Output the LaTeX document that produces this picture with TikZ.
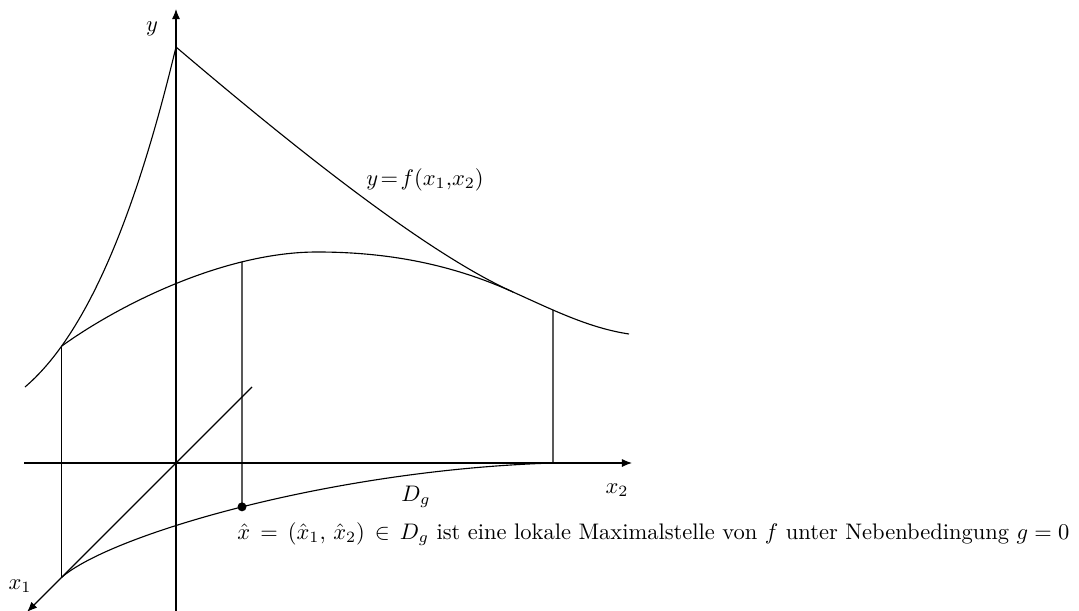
\documentclass[tikz,border=0pt]{standalone}
\usetikzlibrary{arrows.meta,intersections}
\begin{document}
\begin{tikzpicture}[x=0.4444pt,y=-0.4444pt,
  curve/.style={line width=0.5pt},
  axis/.style={line width=0.5pt,-{Latex[length=4.5pt,width=3.6pt]}},
  lbl/.style={inner sep=0pt},
  vline/.style={line width=0.5pt}]
\useasboundingbox (0,0) rectangle (1079,611);
% axes
\coordinate (O) at (176,463);
\coordinate (yb) at (176,611);
\coordinate (yt) at (176,9);
\draw[axis] (yb) -- (yt);
\coordinate (x2l) at (24,463);
\coordinate (x2r) at (632,463);
\draw[axis] (x2l) -- (x2r);
\coordinate (x1u) at (252,387);
\coordinate (x1d) at (27,612);
\draw[axis, name path=x1axis] (x1u) -- (x1d);
% graph of f
\coordinate (L) at (25,387);
\coordinate (P) at (176,47);
\coordinate (T) at (513,292);
\draw[curve] (L) .. controls (95,327.5) and (142.4,187) .. coordinate[pos=0.185] (A) (P);
\draw[curve] (P) .. controls (286,140.5) and (423,251.5) .. (T);
% image of the constraint curve on f
\draw[curve, name path=gcurve] (A) .. controls (123,302) and (227,252) .. (317,252)
   .. controls (390,252) and (453,265) .. (T)
   .. controls (553,310) and (589,328) .. (629,334);
% constraint curve D_g in the plane
\path[name path=vA] (A) -- ++(0,300);
\path[name intersections={of=vA and x1axis, by={B}}];
\coordinate (E) at (553,463);
\draw[curve, name path=dcurve] (B) .. controls (110,535) and (330,470) .. (E);
% vertical lines
\draw[vline] (A) -- (B);
\path[name path=v1] (242,0) -- (242,611);
\path[name intersections={of=v1 and gcurve, by={H1}}];
\path[name intersections={of=v1 and dcurve, by={H2}}];
\draw[vline] (H1) -- (H2);
\fill (H2) circle[radius=2pt];
\path[name path=v2] (553,0) -- (553,611);
\path[name intersections={of=v2 and gcurve, by={H3}}];
\draw[vline] (H3) -- (E);
% labels
\node[lbl] (ylab) at (152,29) {$y$};
\node[lbl] (x2lab) at (617,490) {$x_2$};
\node[lbl] (x1lab) at (20,586) {$x_1$};
\node[lbl] (dg) at (416,497) {$D_g$};
\node[lbl] (flab) at (425,180) {$y\!=\!f(x_1{,}x_2)$};
\node[lbl, anchor=base west] (txt) at (237,539.5) {$\hat{x}\,=\,(\hat{x}_1,\,\hat{x}_2)\,\in\,D_g$\ ist eine lokale Maximalstelle von $f$ unter Nebenbedingung $g=0$};
\end{tikzpicture}
\end{document}
